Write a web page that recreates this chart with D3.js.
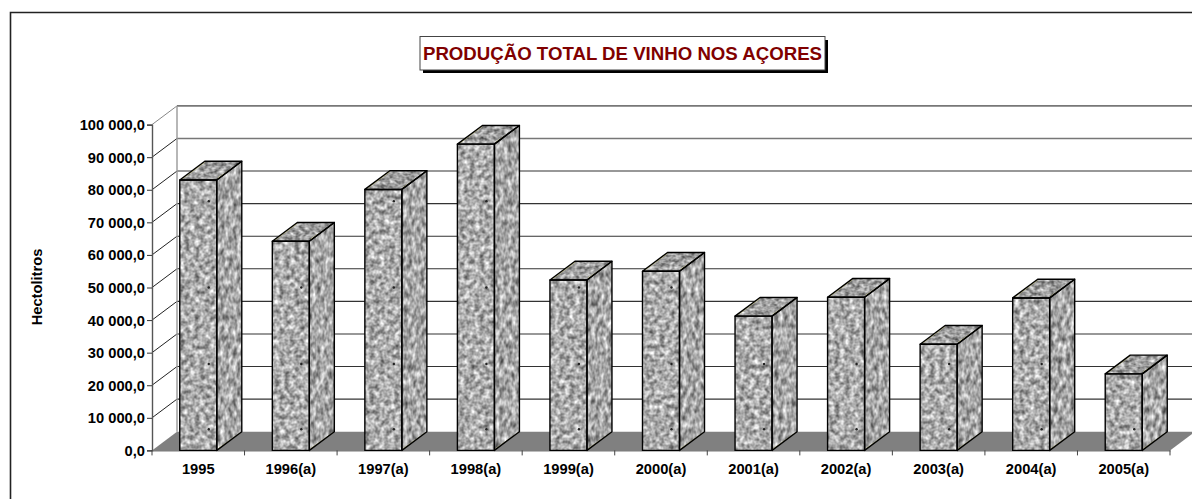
<!DOCTYPE html>
<html><head><meta charset="utf-8">
<script src="https://cdn.jsdelivr.net/npm/d3@7"></script>
<style>html,body{margin:0;padding:0;background:#fff}svg{display:block}text{font-family:"Liberation Sans",Arial,sans-serif;font-weight:bold}</style>
</head><body><div id="c"></div>
<script>
const categories = ["1995","1996(a)","1997(a)","1998(a)","1999(a)","2000(a)","2001(a)","2002(a)","2003(a)","2004(a)","2005(a)"];
const values = [83000,64200,80100,94000,52300,55000,41200,47000,32600,46800,23500];
const yTicks = [0,10000,20000,30000,40000,50000,60000,70000,80000,90000,100000];
const speckRows = [26500,6500,76500,50000];
const titleText = "PRODUÇÃO TOTAL DE VINHO NOS AÇORES";
const yTitle = "Hectolitros";

const W=1192,H=499, dx=25, dy=18.7;
const svg=d3.select("#c").append("svg").attr("width",W).attr("height",H);
const defs=svg.append("defs");
function granite(id,fx,fy,seed,slope,off){
  const f=defs.append("filter").attr("id",id).attr("x",0).attr("y",0).attr("width",1).attr("height",1)
    .attr("color-interpolation-filters","sRGB");
  f.append("feTurbulence").attr("type","fractalNoise").attr("baseFrequency",fx+" "+fy).attr("numOctaves",2).attr("seed",seed).attr("result","n");
  const row=`${slope} 0 0 0 ${off}`;
  f.append("feColorMatrix").attr("in","n").attr("type","matrix")
    .attr("values",`${row} ${row} ${row} 0 0 0 0 1`).attr("result","g");
  f.append("feGaussianBlur").attr("in","g").attr("stdDeviation",0.6).attr("result","b");
  f.append("feComposite").attr("in","b").attr("in2","SourceGraphic").attr("operator","in");
}
granite("front",0.2,0.2,4,0.95,0.2);
granite("side",0.24,0.14,9,0.95,0.18);
granite("top",0.2,0.27,12,0.9,0.17);

const x=d3.scaleBand().domain(categories).range([152,1170]);
const y=d3.scaleLinear().domain([0,100000]).range([450.4,124.6]);
const edge=d3.scaleLinear().domain([0,categories.length]).range(x.range());
const barW=x.bandwidth()*0.4;
const fmt=d3.formatLocale({decimal:",",thousands:"\u00a0",grouping:[3],currency:["",""]}).format(",.1f");
const x0=x.range()[0], x1=x.range()[1], yb=y(0);

// chart frame (open at the right and bottom)
svg.append("path").attr("d",`M${W},12.5H10.5V${H}`).attr("fill","none").attr("stroke","#222").attr("stroke-width",1.6);

// back wall gridlines
svg.append("g").selectAll("line").data(yTicks.slice(1)).join("line")
  .attr("x1",x0+dx).attr("x2",W).attr("y1",d=>y(d)-dy).attr("y2",d=>y(d)-dy)
  .attr("stroke",d=>d>=90000?"#777":"#333").attr("stroke-width",d=>d>=90000?1.6:1.1);
// left wall lines
svg.append("g").selectAll("line").data(yTicks.slice(1)).join("line")
  .attr("x1",x0).attr("y1",d=>y(d)).attr("x2",x0+dx).attr("y2",d=>y(d)-dy)
  .attr("stroke",d=>d==100000?"#888":"#222").attr("stroke-width",1);
svg.append("line").attr("x1",x0+dx).attr("x2",x0+dx).attr("y1",y(100000)-dy).attr("y2",yb-dy)
  .attr("stroke","#999").attr("stroke-width",1.4);
// floor
svg.append("polygon").attr("fill","#808080")
  .attr("points",[[x0,yb],[x0+dx,yb-dy],[x1+dx,yb-dy],[x1,yb]].join(" "));

// y axis
const ay=svg.append("g").attr("transform",`translate(${x0},0)`)
  .call(d3.axisLeft(y).tickValues(yTicks).tickFormat(fmt).tickSize(5).tickPadding(2));
ay.select(".domain").attr("stroke","#555").attr("stroke-width",1.4);
ay.selectAll(".tick line").attr("stroke","#333");
ay.selectAll("text").attr("font-size",14.7).attr("fill","#000").attr("dy","0.34em");

// x axis
const ax=svg.append("g").attr("transform",`translate(0,${yb})`)
  .call(d3.axisBottom(x).tickSize(0).tickPadding(13));
ax.select(".domain").attr("stroke","#555").attr("stroke-width",1);
ax.selectAll("text").attr("font-size",14.7).attr("fill","#000");
svg.append("g").selectAll("line").data(d3.range(categories.length+1)).join("line")
  .attr("x1",d=>edge(d)).attr("x2",d=>edge(d)).attr("y1",yb).attr("y2",yb+5).attr("stroke","#444");

// bars
const rows=categories.map((c,i)=>({c,v:values[i]}));
const g=svg.append("g").selectAll("g").data(rows).join("g");
const L=d=>x(d.c)+(x.bandwidth()-barW)/2, R=d=>L(d)+barW, T=d=>y(d.v);
const facePts={
  front:d=>[[L(d),T(d)],[R(d),T(d)],[R(d),yb],[L(d),yb]],
  side:d=>[[R(d),T(d)],[R(d)+dx,T(d)-dy],[R(d)+dx,yb-dy],[R(d),yb]],
  top:d=>[[L(d),T(d)],[L(d)+dx,T(d)-dy],[R(d)+dx,T(d)-dy],[R(d),T(d)]]
};
["front","side","top"].forEach(k=>{
  g.append("polygon").attr("points",d=>facePts[k](d).join(" ")).attr("fill","#999").attr("filter",`url(#${k})`);
});
// dark specks in the stone
g.each(function(d){
  d3.select(this).selectAll("circle").data(speckRows.filter(s=>s<d.v)).join("circle")
    .attr("cx",L(d)+29).attr("cy",s=>y(s)).attr("r",1.2).attr("fill","#222");
});
// pale yellow inner highlights
g.append("line").attr("x1",d=>L(d)+2).attr("y1",d=>T(d)-0.8).attr("x2",d=>L(d)+dx).attr("y2",d=>T(d)-dy+0.8)
  .attr("stroke","#d8d48c").attr("stroke-width",1);
g.append("line").attr("x1",d=>R(d)+1).attr("y1",d=>T(d)-1.8).attr("x2",d=>R(d)+dx-1).attr("y2",d=>T(d)-dy+1.2)
  .attr("stroke","#e2df9c").attr("stroke-width",1);
g.append("line").attr("x1",d=>R(d)+1).attr("y1",yb-1.6).attr("x2",d=>R(d)+dx-1).attr("y2",yb-dy+0.8)
  .attr("stroke","#d8d48c").attr("stroke-width",0.8);
// outlines
["front","side","top"].forEach(k=>{
  g.append("polygon").attr("points",d=>facePts[k](d).join(" ")).attr("fill","none")
    .attr("stroke","#000").attr("stroke-width",1.4).attr("stroke-linejoin","round");
});

// y title
svg.append("text").attr("transform","translate(42,287) rotate(-90)").attr("text-anchor","middle")
  .attr("font-size",14.7).attr("fill","#000").text(yTitle);

// chart title box
const tb=svg.append("g");
tb.append("rect").attr("x",423).attr("y",40).attr("width",405).attr("height",33).attr("fill","#000");
tb.append("rect").attr("x",420).attr("y",36.5).attr("width",405).attr("height",33.5).attr("fill","#fff").attr("stroke","#444").attr("stroke-width",1);
tb.append("text").attr("x",622.5).attr("y",59.5).attr("text-anchor","middle").attr("font-size",18.65).attr("fill","#800000").text(titleText);
</script></body></html>
